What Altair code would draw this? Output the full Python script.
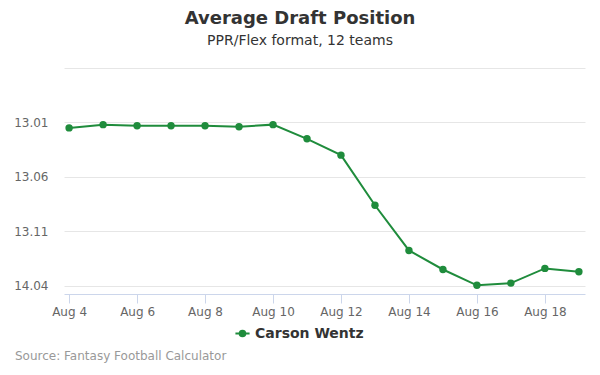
import altair as alt
import pandas as pd

days = [4, 5, 6, 7, 8, 9, 10, 11, 12, 13, 14, 15, 16, 17, 18, 19]
picks = [145.5, 145.2, 145.3, 145.3, 145.3, 145.4, 145.2, 146.5,
         148.0, 152.6, 156.75, 158.5, 159.95, 159.75, 158.4, 158.7]
player = "Carson Wentz"
title = "Average Draft Position"
subtitle = "PPR/Flex format, 12 teams"
source = "Source: Fantasy Football Calculator"

df = pd.DataFrame({"day": days, "pick": picks, "player": [player] * len(days)})

FONT = "DejaVu Sans"
GREEN = "#1f8c3c"

x = alt.X("day:Q", scale=alt.Scale(domain=[3.85, 19.18], nice=False, zero=False),
          axis=alt.Axis(values=[4, 6, 8, 10, 12, 14, 16, 18], labelExpr="'Aug ' + datum.value",
                        title=None, grid=False, domainColor="#ccd6eb", tickColor="#ccd6eb",
                        tickSize=9, labelPadding=3, labelColor="#666666", labelFontSize=12,
                        labelFont=FONT))
y = alt.Y("pick:Q", scale=alt.Scale(domain=[140, 160.75], reverse=True, nice=False, zero=False),
          axis=alt.Axis(values=[140, 145, 150, 155, 160],
                        labelExpr="datum.value == 140 ? '' : format(floor((datum.value-1)/12)+1,'d') + '.' + format((datum.value-1)%12+1,'02d')",
                        title=None, domain=False, ticks=False, gridColor="#e6e6e6",
                        labelPadding=16, labelColor="#666666", labelFontSize=12, labelFont=FONT))
color = alt.Color("player:N", scale=alt.Scale(range=[GREEN]),
                  legend=alt.Legend(title=None, orient="none", legendX=170, legendY=257,
                                    symbolType="M-1,0H1M-0.4,0A0.4,0.4,0,1,1,0.4,0A0.4,0.4,0,1,1,-0.4,0",
                                    symbolSize=200, symbolFillColor=GREEN, symbolStrokeColor=GREEN,
                                    symbolStrokeWidth=2, labelFont=FONT, labelFontSize=14,
                                    labelFontWeight="bold", labelColor="#333333"))

line = alt.Chart(df).mark_line(strokeWidth=2).encode(x=x, y=y, color=color)
pts = alt.Chart(df).mark_circle(size=55, opacity=1).encode(x=x, y=y, color=color)

one = alt.Data(values=[{}])
t1 = alt.Chart(one).mark_text(font=FONT, fontSize=18, fontWeight="bold", color="#333333",
                              align="center", baseline="middle").encode(
    x=alt.value(236), y=alt.value(-49), text=alt.value(title))
t2 = alt.Chart(one).mark_text(font=FONT, fontSize=14, color="#333333",
                              align="center", baseline="middle").encode(
    x=alt.value(236), y=alt.value(-27), text=alt.value(subtitle))
t3 = alt.Chart(one).mark_text(font=FONT, fontSize=12, color="#999999",
                              align="left", baseline="middle").encode(
    x=alt.value(-49), y=alt.value(288), text=alt.value(source))

chart = alt.layer(line, pts, t1, t2, t3).properties(
    width=521, height=226,
    autosize=alt.AutoSizeParams(type="none"),
    padding={"left": 56, "top": 60, "right": 7, "bottom": 81},
).configure_view(stroke=None)

chart.save("out.html", embed_options={"renderer": "svg", "actions": False})
